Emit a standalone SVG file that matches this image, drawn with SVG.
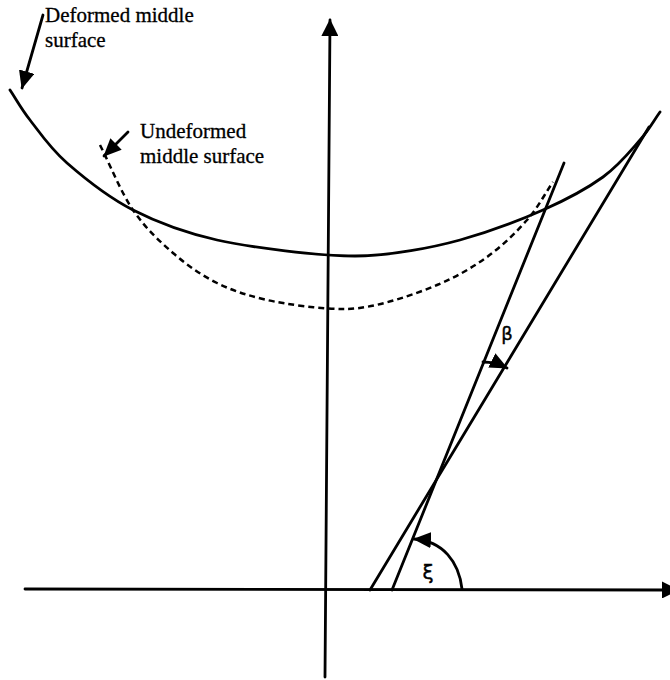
<svg xmlns="http://www.w3.org/2000/svg" width="670" height="680" viewBox="0 0 670 680">
<style>
.ln{fill:none;stroke:#000;stroke-width:2.8;stroke-linecap:round;stroke-linejoin:round}
.dash{fill:none;stroke:#000;stroke-width:2.5;stroke-dasharray:6 4}
.lbl{font-family:"Liberation Serif","Times New Roman",serif;font-size:21px;fill:#000;stroke:#000;stroke-width:0.3}
.grk{font-family:"DejaVu Sans","Liberation Sans",sans-serif;fill:#000;stroke:#000;stroke-width:0.4}
</style>
<defs>
<marker id="arr" markerUnits="userSpaceOnUse" markerWidth="18" markerHeight="16" refX="17" refY="8" orient="auto">
<path d="M0,0 L18,8 L0,16 z" fill="#000"/>
</marker>
<marker id="axarr" markerUnits="userSpaceOnUse" markerWidth="17" markerHeight="17" refX="16" refY="8.5" orient="auto">
<path d="M0,0 L17,8.5 L0,17 z" fill="#000"/>
</marker>
</defs>
<rect width="670" height="680" fill="#fff"/>
<g id="axes">
<path class="ln" d="M325,677 L330,20" marker-end="url(#axarr)"/>
<path class="ln" d="M25,589 L678,590" marker-end="url(#axarr)"/>
</g>
<g id="deformed-surface">
<path class="ln" d="M10,90 C16.7,100 20.5,107.8 30,120 C39.5,132.2 49.8,148 67,163 C84.2,178 108,197.2 133,210 C158,222.8 184.2,232.5 217,240 C249.8,247.5 320,256 355,256 C390,256 434,247.2 460,240 C486,232.8 519.2,220.5 543,210 C566.8,199.5 586.8,188.7 603,177 C619.2,165.3 630.5,150.8 640,140 C649.5,129.2 653.3,121.3 660,112"/>
</g>
<g id="undeformed-surface">
<path class="dash" d="M100,145 C111,166.7 120.8,192 133,210 C145.2,228 159,240.8 173,253 C187,265.2 201.3,275.2 217,283 C232.7,290.8 248.7,295.8 267,300 C285.3,304.2 320,309 345,309 C375,309 417.5,293.2 437,285 C456.5,276.8 472,267.8 487,257 C502,246.2 516,232.5 527,220 C538,207.5 544.3,194.7 553,182"/>
</g>
<g id="lines">
<path class="ln" d="M392,590 L564,163"/>
<path class="ln" d="M370,590 L649,127"/>
</g>
<g id="connectors">
<path class="ln" d="M43,15 L22,88" marker-end="url(#arr)"/>
<path class="ln" d="M128,132 L104,156" marker-end="url(#arr)"/>
<path class="ln" d="M462,589 C459,562 443,541 414,539" marker-end="url(#arr)"/>
<path class="ln" d="M483,362 C492,362 499,364 507,368" marker-end="url(#arr)"/>
</g>
<g id="label-deformed">
<text class="lbl" x="45" y="22">Deformed middle</text>
<text class="lbl" x="45" y="47">surface</text>
</g>
<g id="label-undeformed">
<text class="lbl" x="140" y="138">Undeformed</text>
<text class="lbl" x="140" y="163">middle surface</text>
</g>
<g id="label-beta">
<text class="grk" x="507" y="340" font-size="18" text-anchor="middle">β</text>
</g>
<g id="label-xi">
<text class="grk" x="428" y="579" font-size="20" text-anchor="middle">ξ</text>
</g>
</svg>
